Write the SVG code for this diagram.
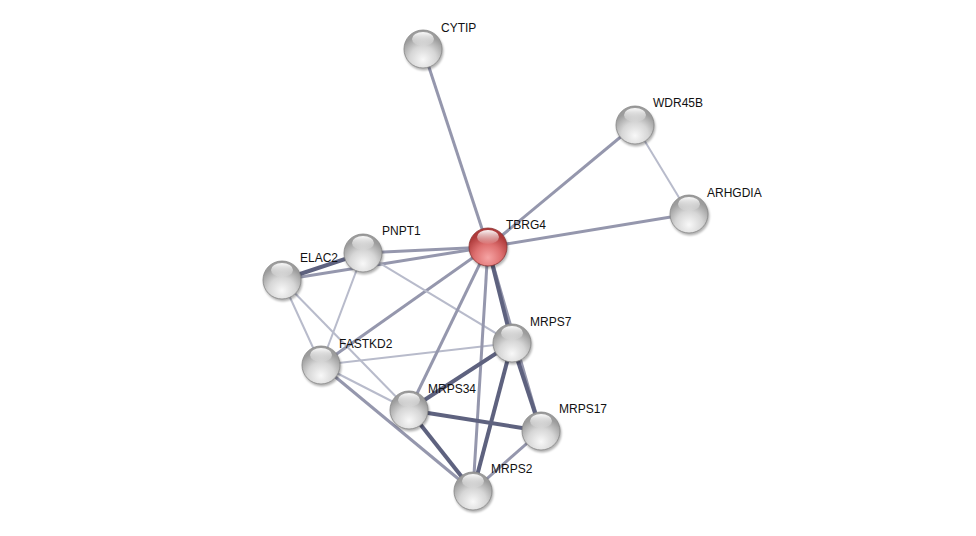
<svg xmlns="http://www.w3.org/2000/svg" width="976" height="536" viewBox="0 0 976 536">
<defs>
<radialGradient id="gGray" cx="50%" cy="78%" r="64%">
<stop offset="0" stop-color="#f8f8f8"/>
<stop offset="0.55" stop-color="#d6d6d6"/>
<stop offset="1" stop-color="#9c9c9c"/>
</radialGradient>
<radialGradient id="gRed" cx="50%" cy="78%" r="64%">
<stop offset="0" stop-color="#f6a4a4"/>
<stop offset="0.55" stop-color="#de7070"/>
<stop offset="1" stop-color="#ae3a3a"/>
</radialGradient>
<linearGradient id="gHi" x1="0" y1="0" x2="0" y2="1">
<stop offset="0" stop-color="#ffffff" stop-opacity="0.95"/>
<stop offset="1" stop-color="#ffffff" stop-opacity="0.05"/>
</linearGradient>
<filter id="sh" x="-30%" y="-30%" width="160%" height="160%">
<feGaussianBlur stdDeviation="1.2"/>
</filter>
</defs>
<style>
.e{fill:none;stroke-linecap:butt}
.t{stroke:#5e627f;stroke-width:4}
.m{stroke:#9597ad;stroke-width:3}
.l{stroke:#b8bbcb;stroke-width:2}
.shadow{fill:#000;fill-opacity:0.3;filter:url(#sh)}
.ball{fill:url(#gGray);stroke:#888888;stroke-width:0.8}
.red{fill:url(#gRed);stroke:#8e3434;stroke-width:0.8}
.hi{fill:url(#gHi)}
text{font-family:"Liberation Sans",Arial,sans-serif;font-size:12px;fill:#111}
</style>
<rect width="976" height="536" fill="#ffffff"/>
<g id="edges">
<line class="e m" x1="423" y1="49" x2="488" y2="247"/>
<line class="e m" x1="635" y1="125" x2="488" y2="247"/>
<line class="e l" x1="635" y1="125" x2="689" y2="214"/>
<line class="e m" x1="689" y1="214" x2="488" y2="247"/>
<line class="e m" x1="363" y1="253" x2="488" y2="247"/>
<line class="e m" x1="282" y1="280" x2="488" y2="247"/>
<line class="e t" x1="282" y1="280" x2="363" y2="253"/>
<line class="e m" x1="488" y1="247" x2="321" y2="365"/>
<line class="e l" x1="363" y1="253" x2="512" y2="343"/>
<line class="e l" x1="363" y1="253" x2="321" y2="365"/>
<line class="e l" x1="282" y1="280" x2="321" y2="365"/>
<line class="e l" x1="282" y1="280" x2="409" y2="410"/>
<line class="e l" x1="321" y1="365" x2="512" y2="343"/>
<line class="e l" x1="321" y1="365" x2="409" y2="410"/>
<line class="e m" x1="321" y1="365" x2="473" y2="491"/>
<line class="e m" x1="488" y1="247" x2="409" y2="410"/>
<line class="e m" x1="488" y1="247" x2="473" y2="491"/>
<line class="e m" x1="488" y1="247" x2="541" y2="431"/>
<line class="e t" x1="488" y1="247" x2="512" y2="343"/>
<line class="e t" x1="512" y1="343" x2="409" y2="410"/>
<line class="e t" x1="512" y1="343" x2="541" y2="431"/>
<line class="e t" x1="512" y1="343" x2="473" y2="491"/>
<line class="e t" x1="409" y1="410" x2="541" y2="431"/>
<line class="e t" x1="409" y1="410" x2="473" y2="491"/>
<line class="e m" x1="541" y1="431" x2="473" y2="491"/>
</g>
<g id="CYTIP"><circle class="shadow" cx="424" cy="51" r="19.5"/><circle class="ball" cx="423" cy="49" r="19"/><ellipse class="hi" cx="423" cy="39" rx="11" ry="7"/><text x="441" y="32">CYTIP</text></g>
<g id="WDR45B"><circle class="shadow" cx="636" cy="127" r="19.5"/><circle class="ball" cx="635" cy="125" r="19"/><ellipse class="hi" cx="635" cy="115" rx="11" ry="7"/><text x="653" y="107">WDR45B</text></g>
<g id="ARHGDIA"><circle class="shadow" cx="690" cy="216" r="19.5"/><circle class="ball" cx="689" cy="214" r="19"/><ellipse class="hi" cx="689" cy="204" rx="11" ry="7"/><text x="707" y="197">ARHGDIA</text></g>
<g id="TBRG4"><circle class="shadow" cx="489" cy="249" r="19.5"/><circle class="red" cx="488" cy="247" r="19"/><ellipse class="hi" cx="488" cy="237" rx="11" ry="7"/><text x="506" y="229">TBRG4</text></g>
<g id="PNPT1"><circle class="shadow" cx="364" cy="255" r="19.5"/><circle class="ball" cx="363" cy="253" r="19"/><ellipse class="hi" cx="363" cy="243" rx="11" ry="7"/><text x="382" y="235">PNPT1</text></g>
<g id="ELAC2"><circle class="shadow" cx="283" cy="282" r="19.5"/><circle class="ball" cx="282" cy="280" r="19"/><ellipse class="hi" cx="282" cy="270" rx="11" ry="7"/><text x="300" y="262">ELAC2</text></g>
<g id="FASTKD2"><circle class="shadow" cx="322" cy="367" r="19.5"/><circle class="ball" cx="321" cy="365" r="19"/><ellipse class="hi" cx="321" cy="355" rx="11" ry="7"/><text x="339" y="348">FASTKD2</text></g>
<g id="MRPS7"><circle class="shadow" cx="513" cy="345" r="19.5"/><circle class="ball" cx="512" cy="343" r="19"/><ellipse class="hi" cx="512" cy="333" rx="11" ry="7"/><text x="530" y="326">MRPS7</text></g>
<g id="MRPS34"><circle class="shadow" cx="410" cy="412" r="19.5"/><circle class="ball" cx="409" cy="410" r="19"/><ellipse class="hi" cx="409" cy="400" rx="11" ry="7"/><text x="428" y="393">MRPS34</text></g>
<g id="MRPS17"><circle class="shadow" cx="542" cy="433" r="19.5"/><circle class="ball" cx="541" cy="431" r="19"/><ellipse class="hi" cx="541" cy="421" rx="11" ry="7"/><text x="559" y="413">MRPS17</text></g>
<g id="MRPS2"><circle class="shadow" cx="474" cy="493" r="19.5"/><circle class="ball" cx="473" cy="491" r="19"/><ellipse class="hi" cx="473" cy="481" rx="11" ry="7"/><text x="491" y="473">MRPS2</text></g>
</svg>
